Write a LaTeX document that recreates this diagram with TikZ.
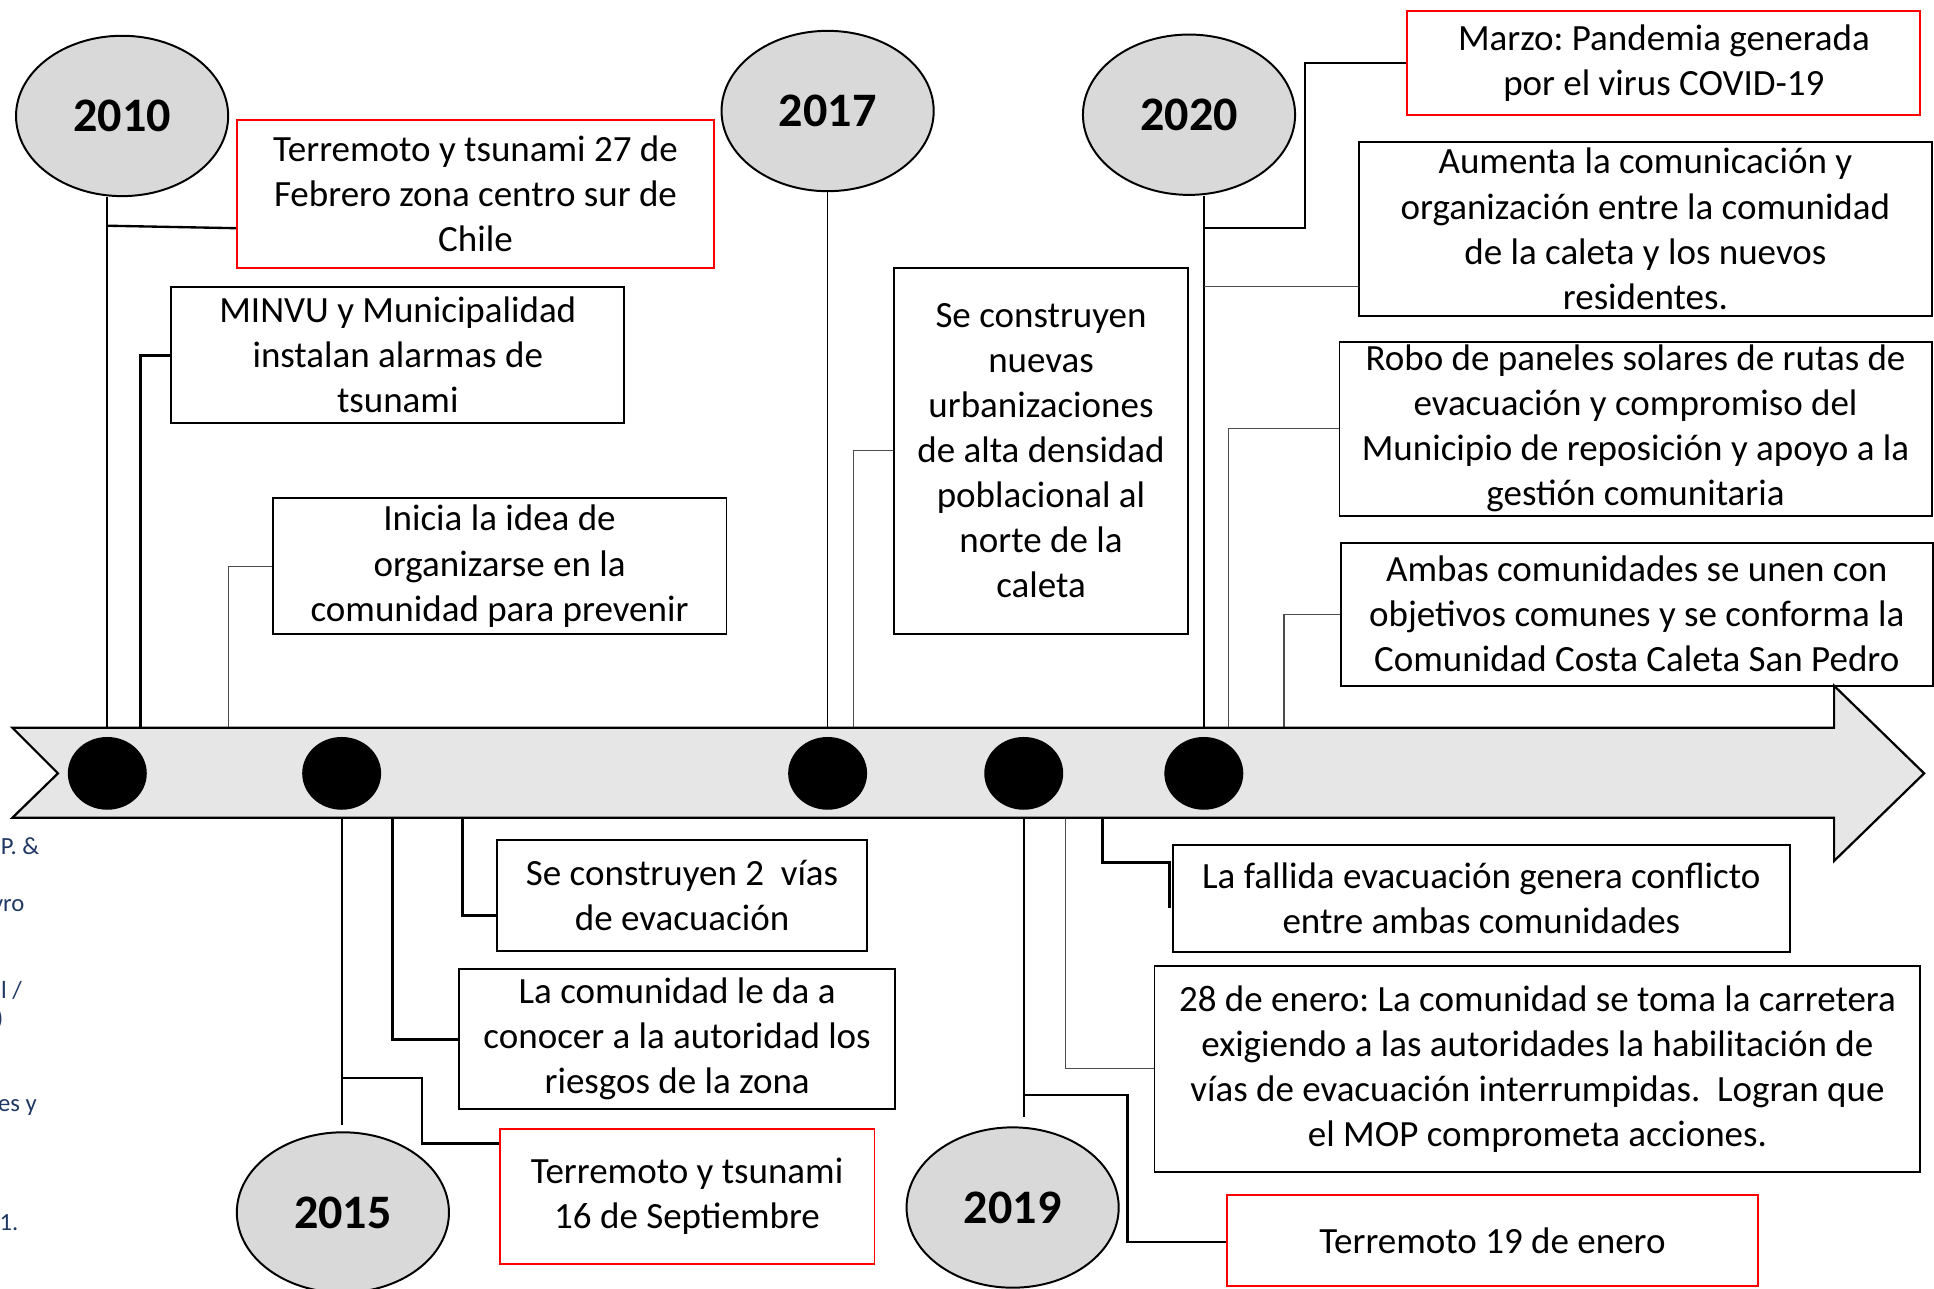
\documentclass[tikz,border=0pt]{standalone}
\usepackage{fontspec}
\setmainfont{Carlito}
\usetikzlibrary{shapes.geometric}
\definecolor{ellgray}{HTML}{D9D9D9}
\definecolor{bandgray}{HTML}{E7E6E6}
\definecolor{redb}{HTML}{FF0000}
\definecolor{fragblue}{HTML}{1F3864}
\frenchspacing
\begin{document}
\begin{tikzpicture}[x=1pt,y=-1pt,
  box/.style={draw=black, line width=1.6pt, fill=white, inner sep=0pt, align=center,
    font=\fontsize{30}{36.5}\selectfont},
  redbox/.style={box, draw=redb},
  yr/.style={ellipse, draw=black, line width=1.6pt, fill=ellgray, minimum width=172pt,
    minimum height=130pt, inner sep=0pt, font=\fontsize{39}{45}\selectfont\bfseries},
  dotn/.style={ellipse, fill=black, minimum width=64pt, minimum height=59pt, inner sep=0pt},
  ln/.style={line width=1.4pt, black},
  med/.style={line width=1.9pt, black},
  thk/.style={line width=2.6pt, black},
  thn/.style={line width=0.9pt, black!70},
  band/.style={draw=black, line width=1.8pt, fill=bandgray, line join=miter},
  frag/.style={inner sep=0pt, anchor=east, text=fragblue, font=\fontsize{20}{24}\selectfont}
]
\path[use as bounding box] (0,0) rectangle (1568,1045);
\clip (0,0) rectangle (1568,1045);

% coordinates on the band edges
\coordinate (bt) at (0,590);
\coordinate (bb) at (0,663);

% dots (positions)
\path (87,627) coordinate (p1) (277,627) coordinate (p2) (671,627) coordinate (p3)
      (830,627) coordinate (p4) (976,627) coordinate (p5);

% year ellipses
\node[yr] (y2010) at (99,94) {2010};
\node[yr] (y2017) at (671,90) {2017};
\node[yr] (y2020) at (964,93) {2020};
\node[yr] (y2015) at (278,983) {2015};
\node[yr] (y2019) at (821,979) {2019};

% boxes
\node[redbox, minimum width=387pt, minimum height=120pt] (r1) at (385.5,157)
  {Terremoto y tsunami 27 de\\Febrero zona centro sur de\\Chile};
\node[box, minimum width=367pt, minimum height=110pt] (bMinvu) at (322.5,288)
  {MINVU y Municipalidad\\instalan alarmas de\\tsunami};
\node[box, minimum width=368pt, minimum height=110pt] (bInicia) at (405,459)
  {Inicia la idea de\\organizarse en la\\comunidad para prevenir};
\node[box, minimum width=238pt, minimum height=297pt] (bNuevas) at (844,365.5)
  {Se construyen\\nuevas\\urbanizaciones\\de alta densidad\\poblacional al\\norte de la\\caleta};
\node[redbox, minimum width=416pt, minimum height=84pt] (rMarzo) at (1349,51)
  {Marzo: Pandemia generada\\por el virus COVID-19};
\node[box, minimum width=464pt, minimum height=141pt] (bAumenta) at (1334,185.5)
  {Aumenta la comunicación y\\organización entre la comunidad\\de la caleta y los nuevos\\residentes.};
\node[box, minimum width=480pt, minimum height=141pt] (bRobo) at (1326,347.5)
  {Robo de paneles solares de rutas de\\evacuación y compromiso del\\Municipio de reposición y apoyo a la\\gestión comunitaria};
\node[box, minimum width=480pt, minimum height=116pt] (bAmbas) at (1327,498)
  {Ambas comunidades se unen con\\objetivos comunes y se conforma la\\Comunidad Costa Caleta San Pedro};
\node[box, minimum width=300pt, minimum height=90pt] (bVias) at (553,726)
  {Se construyen 2\ \ vías\\de evacuación};
\node[box, minimum width=354pt, minimum height=113pt] (bComunidad) at (549,842.5)
  {La comunidad le da a\\conocer a la autoridad los\\riesgos de la zona};
\node[redbox, minimum width=304pt, minimum height=110pt] (rSept) at (557,970)
  {Terremoto y tsunami\\16 de Septiembre};
\node[box, minimum width=500pt, minimum height=87pt] (bFallida) at (1201,728.5)
  {La fallida evacuación genera conflicto\\entre ambas comunidades};
\node[box, minimum width=621pt, minimum height=167pt] (bEnero28) at (1246.5,866.5)
  {28 de enero: La comunidad se toma la carretera\\exigiendo a las autoridades la habilitación de\\vías de evacuación interrumpidas.\ \ Logran que\\el MOP comprometa acciones.};
\node[redbox, minimum width=430pt, minimum height=74pt] (rEnero19) at (1210,1006)
  {Terremoto 19 de enero};

% helper coordinates for connector bends and free ends
\coordinate (m1) at (1058,51);
\coordinate (s1) at (342,927);
\coordinate (e1) at (914,1007);
\coordinate (f1) at (948,699);
\coordinate (k1) at (114,590);
\coordinate (k2) at (185,590);
\coordinate (k3) at (692,590);
\coordinate (k4) at (996,590);
\coordinate (k5) at (1041,590);
\coordinate (k6) at (318,663);
\coordinate (k7) at (375,663);
\coordinate (k8) at (864,663);
\coordinate (k9) at (894,663);

% connectors above the band
\draw[ln] (p1 |- y2010.south) -- (p1 |- bt);
\draw[med] (p1 |- 0,183) -- (r1.west |- 0,185);
\draw[thk] (bMinvu.west) -| (k1);
\draw[thn] (bInicia.west) -| (k2);
\draw[ln] (p3 |- y2017.south) -- (p3 |- bt);
\draw[thn] (bNuevas.west) -| (k3);
\draw[ln] (p5 |- y2020.south) -- (p5 |- bt);
\draw[med] (p5 |- 0,185) -| (m1) -- (rMarzo.west);
\draw[thn] (p5 |- 0,232) -- (bAumenta.west |- 0,232);
\draw[thn] (bRobo.west) -| (k4);
\draw[thn] (bAmbas.west) -| (k5);

% connectors below the band
\draw[ln] (p2 |- bb) -- (p2 |- 0,912);
\draw[med] (p2 |- 0,874) -| (s1) -- (rSept.west |- s1);
\draw[thk] (k6) |- (bComunidad.west);
\draw[thk] (k7) |- (bVias.west |- 0,742);
\draw[ln] (p4 |- bb) -- (p4 |- 0,906);
\draw[med] (p4 |- 0,888) -| (e1) -- (rEnero19.west |- e1);
\draw[thn] (k8) |- (bEnero28.west);
\draw[thk] (k9) |- (f1) -- (f1 |- 0,736);

% timeline arrow
\draw[band] (10,590) -- (1487,590) -- (1487,556) -- (1560,627) -- (1487,698)
  -- (1487,663) -- (10,663) -- (47,627) -- cycle;

% dots
\node[dotn] (d1) at (p1) {};
\node[dotn] (d2) at (p2) {};
\node[dotn] (d3) at (p3) {};
\node[dotn] (d4) at (p4) {};
\node[dotn] (d5) at (p5) {};

% cut-off text fragments at the left edge
\node[frag] (t1) at (32,686) {P. \&};
\node[frag] (t2) at (20,734) {vro};
\node[frag] (t3) at (18,803) {l /};
\node[frag] (t4) at (3,826) {)};
\node[frag] (t5) at (30,898) {es y};
\node[frag] (t6) at (15,991) {1.};
\end{tikzpicture}
\end{document}
